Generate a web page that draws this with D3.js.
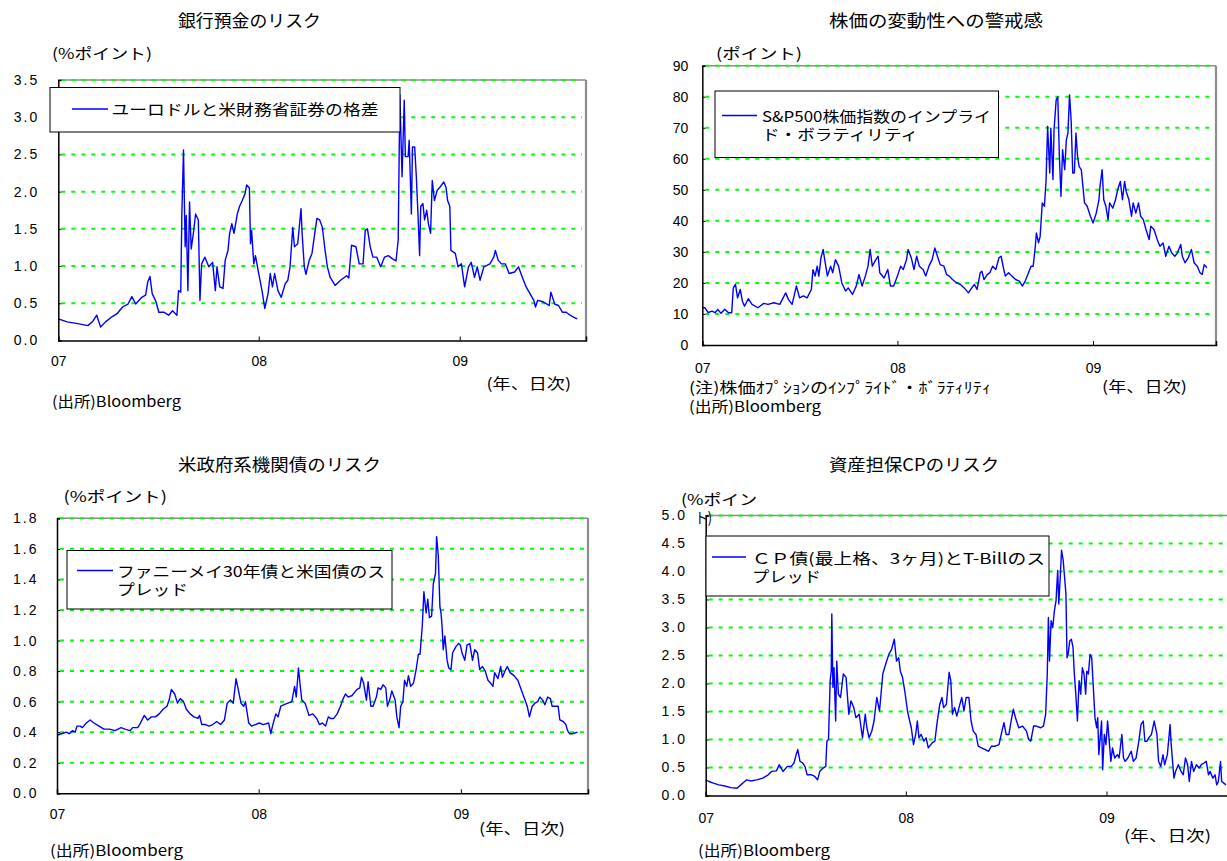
<!DOCTYPE html>
<html>
<head>
<meta charset="utf-8">
<script src="https://cdn.jsdelivr.net/npm/d3@7"></script>
<style>
  body { margin: 0; background: #fff; }
  text { font-family: "Noto Sans CJK JP", "Noto Sans", sans-serif; fill: #000; }
  .num { font-family: "Liberation Sans", Arial, sans-serif; }
</style>
</head>
<body>
<svg id="chart" width="1227" height="861"></svg>
<script>
// ---- data: daily spreads / volatility (date, value) ----
const euroDollarSpread = [
  ["2007-01-01",0.29],["2007-01-17",0.25],["2007-02-03",0.23],["2007-02-24",0.20],["2007-03-05",0.26],["2007-03-12",0.34],["2007-03-19",0.18],["2007-03-28",0.25],["2007-04-07",0.31],["2007-04-18",0.36],["2007-04-28",0.45],["2007-05-08",0.49],["2007-05-15",0.59],["2007-05-22",0.49],["2007-06-02",0.58],["2007-06-09",0.61],["2007-06-13",0.79],["2007-06-17",0.86],["2007-06-21",0.63],["2007-06-28",0.52],["2007-07-03",0.38],["2007-07-12",0.38],["2007-07-21",0.34],["2007-07-28",0.40],["2007-08-05",0.34],["2007-08-08",0.67],["2007-08-12",0.65],["2007-08-14",1.70],["2007-08-17",2.56],["2007-08-20",1.26],["2007-08-22",1.68],["2007-08-25",0.67],["2007-08-28",1.86],["2007-08-31",1.23],["2007-09-04",1.44],["2007-09-08",1.70],["2007-09-13",1.62],["2007-09-16",0.54],["2007-09-19",1.03],["2007-09-25",1.12],["2007-10-02",0.99],["2007-10-09",1.05],["2007-10-14",0.67],["2007-10-17",0.99],["2007-10-22",0.72],["2007-10-28",0.70],["2007-11-01",1.08],["2007-11-06",1.21],["2007-11-09",1.44],["2007-11-13",1.57],["2007-11-17",1.44],["2007-11-23",1.70],["2007-11-27",1.80],["2007-12-02",1.88],["2007-12-07",1.97],["2007-12-10",2.09],["2007-12-15",2.05],["2007-12-17",1.30],["2007-12-19",1.48],["2007-12-23",1.03],["2007-12-26",1.14],
  ["2008-01-01",0.90],["2008-01-07",0.67],["2008-01-12",0.43],["2008-01-18",0.63],["2008-01-22",0.90],["2008-01-26",0.72],["2008-01-30",0.90],["2008-02-05",0.67],["2008-02-11",0.58],["2008-02-18",0.76],["2008-02-23",0.81],["2008-02-27",0.99],["2008-03-03",1.52],["2008-03-06",1.26],["2008-03-12",1.30],["2008-03-18",1.77],["2008-03-20",1.44],["2008-03-24",0.99],["2008-03-27",0.89],["2008-04-02",1.08],["2008-04-07",1.17],["2008-04-12",1.44],["2008-04-16",1.64],["2008-04-21",1.62],["2008-04-26",1.52],["2008-04-30",1.26],["2008-05-05",0.99],["2008-05-10",0.85],["2008-05-19",0.74],["2008-05-29",0.81],["2008-06-09",0.87],["2008-06-13",0.84],["2008-06-18",1.28],["2008-06-26",1.26],["2008-07-02",1.03],["2008-07-09",1.03],["2008-07-13",1.48],["2008-07-17",1.50],["2008-07-22",1.26],["2008-07-27",1.12],["2008-08-03",1.12],["2008-08-10",0.99],["2008-08-17",1.12],["2008-08-24",1.14],["2008-08-31",1.10],["2008-09-07",1.07],["2008-09-11",1.35],["2008-09-14",3.30],["2008-09-18",2.20],["2008-09-22",3.23],["2008-09-24",2.47],["2008-09-29",2.47],["2008-10-01",2.69],["2008-10-05",1.70],["2008-10-07",2.60],["2008-10-11",2.60],["2008-10-14",2.20],["2008-10-17",1.70],["2008-10-20",1.14],["2008-10-22",1.80],["2008-10-26",1.84],["2008-10-29",1.62],["2008-11-02",1.75],["2008-11-05",1.57],["2008-11-09",1.44],["2008-11-12",2.15],["2008-11-16",1.88],["2008-11-21",2.02],["2008-11-26",2.06],["2008-12-03",2.13],["2008-12-07",2.06],["2008-12-10",1.88],["2008-12-14",1.80],["2008-12-16",1.21],["2008-12-24",1.17],["2008-12-29",0.99],
  ["2009-01-04",1.03],["2009-01-10",0.72],["2009-01-17",0.99],["2009-01-22",1.05],["2009-01-28",0.85],["2009-02-02",0.99],["2009-02-07",0.81],["2009-02-14",0.99],["2009-02-25",1.03],["2009-03-04",1.12],["2009-03-07",1.21],["2009-03-12",1.08],["2009-03-18",1.03],["2009-03-25",1.03],["2009-04-01",0.90],["2009-04-11",0.92],["2009-04-18",0.99],["2009-04-25",0.85],["2009-05-02",0.72],["2009-05-09",0.63],["2009-05-16",0.54],["2009-05-19",0.45],["2009-05-23",0.54],["2009-06-02",0.52],["2009-06-13",0.47],["2009-06-16",0.65],["2009-06-23",0.49],["2009-06-30",0.47],["2009-07-07",0.38],["2009-07-14",0.38],["2009-07-21",0.34],["2009-07-28",0.31],["2009-08-03",0.29]
];

const sp500ImpliedVol = [
  ["2007-01-01",12.0],["2007-01-06",12.0],["2007-01-12",10.4],["2007-01-19",10.9],["2007-01-25",10.4],["2007-01-30",11.5],["2007-02-05",10.2],["2007-02-12",11.5],["2007-02-19",10.4],["2007-02-25",10.4],["2007-02-28",18.4],["2007-03-04",19.5],["2007-03-08",15.2],["2007-03-13",17.9],["2007-03-17",14.1],["2007-03-21",12.5],["2007-03-28",14.9],["2007-04-04",13.1],["2007-04-15",12.0],["2007-04-26",13.4],["2007-05-04",13.1],["2007-05-15",13.6],["2007-05-26",13.1],["2007-06-06",16.8],["2007-06-11",14.7],["2007-06-18",13.1],["2007-06-26",19.0],["2007-07-02",15.2],["2007-07-09",15.8],["2007-07-16",15.2],["2007-07-24",17.9],["2007-07-27",24.3],["2007-07-31",22.2],["2007-08-04",25.4],["2007-08-07",22.2],["2007-08-11",28.1],["2007-08-15",30.8],["2007-08-18",27.5],["2007-08-23",22.2],["2007-08-29",25.4],["2007-09-02",23.3],["2007-09-07",27.5],["2007-09-13",25.4],["2007-09-19",20.0],["2007-09-26",17.4],["2007-10-01",18.4],["2007-10-09",16.3],["2007-10-16",19.0],["2007-10-21",22.7],["2007-10-27",19.0],["2007-11-02",22.2],["2007-11-07",25.4],["2007-11-11",30.8],["2007-11-15",25.4],["2007-11-20",27.0],["2007-11-26",28.6],["2007-11-29",23.3],["2007-12-07",21.6],["2007-12-14",24.3],["2007-12-19",19.0],["2007-12-25",19.0],
  ["2008-01-01",22.2],["2008-01-07",25.4],["2008-01-12",24.3],["2008-01-18",27.5],["2008-01-21",30.8],["2008-01-27",28.1],["2008-02-01",24.3],["2008-02-06",28.6],["2008-02-11",25.4],["2008-02-18",24.3],["2008-02-23",22.2],["2008-02-29",25.4],["2008-03-06",27.5],["2008-03-11",31.3],["2008-03-15",29.1],["2008-03-21",25.9],["2008-03-28",25.4],["2008-04-02",22.7],["2008-04-07",22.2],["2008-04-13",21.1],["2008-04-21",20.0],["2008-04-28",19.5],["2008-05-05",18.4],["2008-05-13",16.8],["2008-05-19",18.4],["2008-05-24",19.5],["2008-05-29",17.9],["2008-06-04",23.3],["2008-06-07",23.8],["2008-06-11",21.1],["2008-06-17",22.7],["2008-06-22",23.3],["2008-06-27",25.4],["2008-07-03",24.3],["2008-07-09",28.1],["2008-07-13",28.6],["2008-07-18",24.3],["2008-07-21",22.2],["2008-07-27",23.3],["2008-08-02",22.2],["2008-08-09",21.1],["2008-08-16",20.6],["2008-08-22",19.0],["2008-08-27",20.6],["2008-09-01",22.7],["2008-09-07",25.4],["2008-09-11",25.4],["2008-09-15",31.8],["2008-09-17",36.1],["2008-09-21",32.9],["2008-09-24",35.0],["2008-09-28",45.8],["2008-10-02",44.7],["2008-10-05",52.7],["2008-10-08",70.4],["2008-10-12",55.4],["2008-10-14",69.9],["2008-10-18",53.3],["2008-10-20",69.3],["2008-10-24",79.0],["2008-10-27",80.0],["2008-10-30",60.8],["2008-11-02",47.9],["2008-11-05",62.9],["2008-11-09",56.5],["2008-11-12",66.1],["2008-11-15",68.3],["2008-11-18",80.6],["2008-11-21",72.5],["2008-11-24",55.4],["2008-11-27",55.4],["2008-11-30",68.3],["2008-12-03",60.8],["2008-12-06",57.5],["2008-12-10",56.5],["2008-12-16",45.8],["2008-12-21",44.7],["2008-12-27",41.5],
  ["2009-01-01",39.3],["2009-01-07",42.5],["2009-01-12",46.8],["2009-01-14",51.1],["2009-01-18",56.5],["2009-01-21",46.8],["2009-01-25",44.7],["2009-01-29",40.4],["2009-02-01",45.8],["2009-02-07",44.1],["2009-02-12",46.8],["2009-02-16",50.0],["2009-02-21",52.7],["2009-02-25",46.8],["2009-03-01",52.7],["2009-03-04",49.5],["2009-03-09",46.8],["2009-03-14",41.5],["2009-03-17",45.8],["2009-03-22",42.5],["2009-03-27",45.8],["2009-03-31",41.5],["2009-04-05",40.4],["2009-04-10",37.2],["2009-04-16",34.0],["2009-04-19",38.3],["2009-04-25",37.2],["2009-05-01",34.0],["2009-05-06",31.8],["2009-05-12",32.9],["2009-05-17",28.6],["2009-05-23",31.8],["2009-05-28",29.7],["2009-06-03",28.6],["2009-06-08",29.7],["2009-06-14",32.4],["2009-06-17",28.6],["2009-06-22",26.5],["2009-06-28",28.1],["2009-07-04",30.8],["2009-07-09",26.5],["2009-07-15",25.4],["2009-07-20",23.3],["2009-07-24",22.7],["2009-07-28",25.9],["2009-08-02",24.9]
];

const fannieMaeSpread = [
  ["2007-01-01",0.38],["2007-01-09",0.39],["2007-01-18",0.40],["2007-01-23",0.39],["2007-01-29",0.41],["2007-02-03",0.40],["2007-02-06",0.44],["2007-02-12",0.44],["2007-02-16",0.43],["2007-02-23",0.46],["2007-03-02",0.48],["2007-03-09",0.46],["2007-03-18",0.44],["2007-03-27",0.42],["2007-04-06",0.42],["2007-04-16",0.41],["2007-04-27",0.43],["2007-05-04",0.42],["2007-05-13",0.41],["2007-05-18",0.43],["2007-05-27",0.43],["2007-06-01",0.46],["2007-06-08",0.51],["2007-06-14",0.48],["2007-06-21",0.50],["2007-06-28",0.50],["2007-07-05",0.52],["2007-07-12",0.55],["2007-07-19",0.57],["2007-07-23",0.61],["2007-07-27",0.68],["2007-08-02",0.65],["2007-08-07",0.59],["2007-08-12",0.62],["2007-08-18",0.60],["2007-08-23",0.55],["2007-08-30",0.52],["2007-09-06",0.50],["2007-09-13",0.49],["2007-09-16",0.51],["2007-09-20",0.45],["2007-09-27",0.45],["2007-10-03",0.44],["2007-10-10",0.45],["2007-10-17",0.47],["2007-10-24",0.45],["2007-10-31",0.48],["2007-11-05",0.59],["2007-11-11",0.61],["2007-11-16",0.59],["2007-11-21",0.75],["2007-11-25",0.68],["2007-11-30",0.59],["2007-12-05",0.57],["2007-12-08",0.60],["2007-12-14",0.46],["2007-12-19",0.44],["2007-12-26",0.45],
  ["2008-01-02",0.46],["2008-01-09",0.45],["2008-01-19",0.46],["2008-01-23",0.39],["2008-01-26",0.44],["2008-02-01",0.52],["2008-02-05",0.50],["2008-02-10",0.57],["2008-02-16",0.58],["2008-02-23",0.59],["2008-03-01",0.60],["2008-03-06",0.70],["2008-03-09",0.63],["2008-03-13",0.82],["2008-03-16",0.71],["2008-03-19",0.61],["2008-03-25",0.59],["2008-04-01",0.51],["2008-04-08",0.52],["2008-04-15",0.49],["2008-04-20",0.45],["2008-04-25",0.46],["2008-05-01",0.44],["2008-05-06",0.50],["2008-05-10",0.49],["2008-05-16",0.49],["2008-05-22",0.52],["2008-05-28",0.57],["2008-06-02",0.62],["2008-06-06",0.65],["2008-06-11",0.63],["2008-06-18",0.64],["2008-06-27",0.68],["2008-07-02",0.69],["2008-07-05",0.76],["2008-07-09",0.72],["2008-07-14",0.61],["2008-07-17",0.73],["2008-07-22",0.57],["2008-07-26",0.57],["2008-08-01",0.63],["2008-08-04",0.69],["2008-08-09",0.68],["2008-08-13",0.71],["2008-08-18",0.69],["2008-08-21",0.57],["2008-08-25",0.61],["2008-08-29",0.67],["2008-09-04",0.61],["2008-09-07",0.50],["2008-09-11",0.43],["2008-09-14",0.57],["2008-09-18",0.60],["2008-09-21",0.74],["2008-09-25",0.70],["2008-09-28",0.77],["2008-10-02",0.70],["2008-10-07",0.72],["2008-10-12",0.81],["2008-10-16",0.91],["2008-10-19",0.91],["2008-10-23",1.09],["2008-10-26",1.32],["2008-10-30",1.18],["2008-11-02",1.27],["2008-11-05",1.15],["2008-11-09",1.16],["2008-11-12",1.37],["2008-11-16",1.44],["2008-11-18",1.68],["2008-11-21",1.56],["2008-11-24",1.22],["2008-11-26",1.18],["2008-11-28",1.09],["2008-11-30",0.94],["2008-12-03",1.03],["2008-12-07",0.87],["2008-12-10",0.82],["2008-12-14",0.81],["2008-12-17",0.92],["2008-12-23",0.96],["2008-12-28",0.98],["2008-12-31",0.97],
  ["2009-01-03",0.92],["2009-01-08",0.87],["2009-01-12",0.97],["2009-01-17",0.98],["2009-01-22",0.87],["2009-01-26",0.94],["2009-01-31",0.92],["2009-02-04",0.81],["2009-02-09",0.83],["2009-02-14",0.80],["2009-02-19",0.74],["2009-02-24",0.72],["2009-02-28",0.70],["2009-03-03",0.79],["2009-03-09",0.75],["2009-03-14",0.83],["2009-03-17",0.76],["2009-03-23",0.81],["2009-03-26",0.83],["2009-03-31",0.79],["2009-04-07",0.77],["2009-04-14",0.74],["2009-04-20",0.68],["2009-04-27",0.61],["2009-05-01",0.57],["2009-05-05",0.50],["2009-05-10",0.57],["2009-05-15",0.59],["2009-05-20",0.60],["2009-05-24",0.63],["2009-05-29",0.61],["2009-06-02",0.58],["2009-06-07",0.63],["2009-06-12",0.62],["2009-06-15",0.57],["2009-06-21",0.57],["2009-06-26",0.57],["2009-06-29",0.48],["2009-07-05",0.47],["2009-07-10",0.45],["2009-07-13",0.41],["2009-07-17",0.39],["2009-07-22",0.39],["2009-07-31",0.40]
];

const abcpSpread = [
  ["2007-01-01",0.28],["2007-01-07",0.25],["2007-01-15",0.22],["2007-01-25",0.19],["2007-02-05",0.17],["2007-02-16",0.14],["2007-02-27",0.13],["2007-03-06",0.19],["2007-03-13",0.25],["2007-03-17",0.28],["2007-03-24",0.26],["2007-04-04",0.28],["2007-04-15",0.31],["2007-04-25",0.37],["2007-05-01",0.43],["2007-05-10",0.44],["2007-05-15",0.55],["2007-05-22",0.43],["2007-05-30",0.52],["2007-06-06",0.52],["2007-06-11",0.58],["2007-06-15",0.73],["2007-06-18",0.82],["2007-06-22",0.61],["2007-06-27",0.58],["2007-07-01",0.52],["2007-07-05",0.37],["2007-07-13",0.37],["2007-07-19",0.34],["2007-07-24",0.28],["2007-07-28",0.43],["2007-08-03",0.49],["2007-08-08",0.52],["2007-08-10",0.97],["2007-08-13",1.00],["2007-08-16",2.05],["2007-08-18",2.22],["2007-08-19",3.24],["2007-08-21",1.93],["2007-08-23",2.28],["2007-08-26",1.33],["2007-08-28",2.40],["2007-08-31",1.81],["2007-09-04",1.75],["2007-09-09",2.17],["2007-09-14",2.11],["2007-09-19",1.45],["2007-09-23",1.69],["2007-09-28",1.57],["2007-10-02",1.39],["2007-10-08",1.45],["2007-10-14",1.03],["2007-10-19",1.45],["2007-10-22",1.21],["2007-10-26",1.03],["2007-10-31",1.15],["2007-11-04",1.33],["2007-11-09",1.75],["2007-11-14",1.51],["2007-11-20",2.17],["2007-11-25",2.34],["2007-12-01",2.52],["2007-12-06",2.61],["2007-12-11",2.79],["2007-12-15",2.40],["2007-12-19",2.46],["2007-12-22",2.22],["2007-12-26",2.11],["2007-12-30",1.87],
  ["2008-01-04",1.51],["2008-01-08",1.33],["2008-01-11",1.21],["2008-01-15",0.91],["2008-01-19",1.09],["2008-01-22",1.33],["2008-01-25",1.03],["2008-01-29",1.09],["2008-02-03",0.97],["2008-02-07",1.03],["2008-02-11",0.85],["2008-02-18",0.94],["2008-02-23",0.97],["2008-02-27",1.30],["2008-03-03",1.63],["2008-03-07",1.75],["2008-03-10",1.57],["2008-03-15",1.63],["2008-03-20",2.20],["2008-03-23",2.05],["2008-03-26",1.45],["2008-03-30",1.57],["2008-04-03",1.42],["2008-04-07",1.57],["2008-04-12",1.75],["2008-04-16",1.51],["2008-04-20",1.75],["2008-04-25",1.75],["2008-04-29",1.33],["2008-05-03",1.15],["2008-05-08",1.09],["2008-05-12",0.88],["2008-05-18",0.85],["2008-05-25",0.82],["2008-05-31",0.79],["2008-06-05",0.88],["2008-06-12",0.88],["2008-06-19",0.91],["2008-06-23",1.09],["2008-06-28",1.30],["2008-07-02",1.09],["2008-07-07",1.09],["2008-07-11",1.33],["2008-07-15",1.54],["2008-07-19",1.39],["2008-07-25",1.21],["2008-08-01",1.24],["2008-08-08",1.15],["2008-08-12",1.00],["2008-08-16",0.97],["2008-08-21",1.24],["2008-08-26",1.24],["2008-09-03",1.21],["2008-09-08",1.24],["2008-09-12",1.45],["2008-09-15",2.17],["2008-09-17",3.18],["2008-09-19",2.40],["2008-09-22",3.12],["2008-09-25",3.00],["2008-09-28",3.30],["2008-10-01",3.48],["2008-10-04",4.02],["2008-10-06",3.42],["2008-10-09",3.96],["2008-10-11",4.38],["2008-10-14",4.20],["2008-10-16",3.96],["2008-10-19",3.60],["2008-10-21",2.46],["2008-10-23",2.52],["2008-10-26",2.76],["2008-10-29",2.79],["2008-11-01",2.64],["2008-11-03",2.22],["2008-11-06",1.81],["2008-11-09",1.33],["2008-11-12",2.05],["2008-11-15",1.81],["2008-11-18",2.28],["2008-11-21",2.17],["2008-11-24",1.81],["2008-11-26",2.22],["2008-11-29",2.17],["2008-12-02",2.52],["2008-12-05",2.46],["2008-12-08",1.93],["2008-12-11",1.39],["2008-12-14",1.21],["2008-12-16",1.39],["2008-12-18",0.73],["2008-12-20",0.97],["2008-12-23",1.33],["2008-12-25",0.46],["2008-12-28",1.09],["2008-12-31",0.91],
  ["2009-01-03",1.33],["2009-01-06",0.97],["2009-01-09",0.61],["2009-01-12",0.85],["2009-01-16",0.67],["2009-01-21",0.73],["2009-01-24",0.67],["2009-01-29",1.09],["2009-02-01",0.67],["2009-02-04",0.61],["2009-02-09",0.67],["2009-02-15",0.79],["2009-02-19",0.61],["2009-02-24",0.67],["2009-03-01",0.97],["2009-03-05",1.27],["2009-03-09",1.33],["2009-03-12",0.97],["2009-03-16",0.97],["2009-03-19",1.03],["2009-03-24",1.09],["2009-03-29",1.33],["2009-04-03",1.09],["2009-04-06",0.61],["2009-04-10",0.52],["2009-04-14",0.73],["2009-04-17",0.55],["2009-04-22",0.73],["2009-04-27",1.27],["2009-04-29",0.91],["2009-05-04",0.31],["2009-05-07",0.43],["2009-05-12",0.55],["2009-05-17",0.43],["2009-05-21",0.37],["2009-05-25",0.67],["2009-05-29",0.55],["2009-06-01",0.25],["2009-06-05",0.61],["2009-06-09",0.43],["2009-06-14",0.55],["2009-06-19",0.49],["2009-06-23",0.55],["2009-06-28",0.58],["2009-07-02",0.61],["2009-07-06",0.37],["2009-07-09",0.43],["2009-07-14",0.31],["2009-07-18",0.37],["2009-07-21",0.19],["2009-07-24",0.25],["2009-07-28",0.61],["2009-07-30",0.25],["2009-08-03",0.22],["2009-08-07",0.19]
];

// ---- axis ticks and labels ----
const yearTickDates = ["2007-01-01", "2008-01-01", "2009-01-01"];
const yearTickLabels = ["07", "08", "09"];
const depositTicks = [0, 0.5, 1.0, 1.5, 2.0, 2.5, 3.0, 3.5];
const volTicks = [0, 10, 20, 30, 40, 50, 60, 70, 80, 90];
const agencyTicks = [0, 0.2, 0.4, 0.6, 0.8, 1.0, 1.2, 1.4, 1.6, 1.8];
const abcpTicks = [0, 0.5, 1.0, 1.5, 2.0, 2.5, 3.0, 3.5, 4.0, 4.5, 5.0];
const dateRange = ["2007-01-01", "2009-08-19"];

const parse = d3.timeParse("%Y-%m-%d");
const svg = d3.select("#chart");
svg.append("rect").attr("width", 1227).attr("height", 861).attr("fill", "#fff");

function addText(g, s, x, y, opt = {}) {
  const t = g.append("text").attr("x", x).attr("y", y).text(s)
    .attr("font-size", opt.size || 15)
    .attr("text-anchor", opt.anchor || "start");
  if (opt.cls) t.attr("class", opt.cls);
  if (opt.width) t.attr("textLength", opt.width).attr("lengthAdjust", "spacingAndGlyphs");
  return t;
}

function drawPanel(p) {
  const g = svg.append("g");
  const series = p.data.map(([d, v]) => ({ date: parse(d), value: v }))
    .sort((a, b) => a.date - b.date);
  const x = d3.scaleTime().domain(dateRange.map(parse)).range([p.left, p.right]);
  const y = d3.scaleLinear().domain([0, d3.max(p.ticks)]).range([p.bottom, p.top]);

  // grey frame on top and right
  g.append("line").attr("x1", p.left).attr("x2", p.right).attr("y1", p.top).attr("y2", p.top)
    .attr("stroke", "#8c8c8c").attr("stroke-width", 1.6);
  g.append("line").attr("x1", p.right).attr("x2", p.right).attr("y1", p.top).attr("y2", p.bottom)
    .attr("stroke", "#8c8c8c").attr("stroke-width", 2.2);

  // green dotted gridlines
  g.selectAll("line.grid").data(p.ticks.filter(t => t > 0)).join("line")
    .attr("class", "grid")
    .attr("x1", p.left + 3).attr("x2", p.right - 4)
    .attr("y1", d => y(d)).attr("y2", d => y(d))
    .attr("stroke", "#00ff00").attr("stroke-width", 2).attr("stroke-dasharray", "4,6");

  // series line
  g.append("path").datum(series)
    .attr("fill", "none").attr("stroke", "#0000ff").attr("stroke-width", 1.4)
    .attr("stroke-linejoin", "round")
    .attr("d", d3.line().x(d => x(d.date)).y(d => y(d.value)));

  // y axis
  const ya = g.append("g").attr("transform", `translate(${p.left},0)`)
    .call(d3.axisLeft(y).tickValues(p.ticks).tickSize(-3).tickPadding(p.yPad).tickFormat(p.fmt));
  ya.select(".domain").attr("stroke", "#000").attr("stroke-width", 1.5);
  ya.selectAll(".tick line").attr("stroke", "#000");
  ya.selectAll(".tick text").attr("class", "num").attr("font-size", 14)
    .attr("letter-spacing", p.spacing).attr("fill", "#000");

  // x axis
  const xa = g.append("g").attr("transform", `translate(0,${p.bottom})`)
    .call(d3.axisBottom(x).tickValues(yearTickDates.map(parse)).tickSize(-4)
      .tickPadding(p.xPad).tickFormat((d, i) => yearTickLabels[i]));
  xa.select(".domain").attr("stroke", "#000").attr("stroke-width", 1.5);
  xa.selectAll(".tick line").attr("stroke", "#000");
  xa.selectAll(".tick text").attr("class", "num").attr("font-size", 14).attr("fill", "#000");

  // legend
  const L = p.legend;
  g.append("rect").attr("x", L.x).attr("y", L.y).attr("width", L.w).attr("height", L.h)
    .attr("fill", "#fff").attr("stroke", "#000").attr("stroke-width", 1);
  g.append("line").attr("x1", L.lx1).attr("x2", L.lx2).attr("y1", L.ly).attr("y2", L.ly)
    .attr("stroke", "#0000ff").attr("stroke-width", 1.5);
  L.lines.forEach(s => addText(g, s.t, L.tx, s.y, { size: 15, width: s.w }));

  // titles and notes
  p.texts.forEach(t => addText(g, t.t, t.x, t.y, t));
}

const fmt1 = d3.format(".1f");

drawPanel({
  data: euroDollarSpread, ticks: depositTicks, fmt: fmt1, spacing: 2,
  left: 58.3, right: 586, top: 80, bottom: 340.5, yPad: 19, xPad: 16,
  legend: { x: 50, y: 87.5, w: 350, h: 44.5, lx1: 72, lx2: 108, ly: 109, tx: 111.5,
    lines: [{ t: "ユーロドルと米財務省証券の格差", y: 115, w: 267 }] },
  texts: [
    { t: "銀行預金のリスク", x: 178, y: 27, size: 17, width: 143 },
    { t: "(%ポイント)", x: 52, y: 59, size: 15, width: 100 },
    { t: "(年、日次)", x: 486.5, y: 389, size: 15, width: 84.5 },
    { t: "(出所)Bloomberg", x: 52, y: 407, size: 15, width: 129 }
  ]
});

drawPanel({
  data: sp500ImpliedVol, ticks: volTicks, fmt: d3.format("d"), spacing: 0,
  left: 702.3, right: 1216, top: 65.7, bottom: 345, yPad: 14, xPad: 18.4,
  legend: { x: 715, y: 91, w: 283.5, h: 66.5, lx1: 722, lx2: 757, ly: 115.6, tx: 762,
    lines: [{ t: "S&P500株価指数のインプライ", y: 122, w: 229 },
            { t: "ド・ボラティリティ", y: 140, w: 156 }] },
  texts: [
    { t: "株価の変動性への警戒感", x: 829, y: 27, size: 17, width: 214 },
    { t: "(ポイント)", x: 716, y: 59, size: 15, width: 86 },
    { t: "(年、日次)", x: 1102, y: 392, size: 15, width: 85 },
    { t: "(注)株価ｵﾌﾟｼｮﾝのｲﾝﾌﾟﾗｲﾄﾞ・ﾎﾞﾗﾃｨﾘﾃｨ", x: 689, y: 393, size: 15, width: 302 },
    { t: "(出所)Bloomberg", x: 689, y: 411.5, size: 15, width: 132 }
  ]
});

drawPanel({
  data: fannieMaeSpread, ticks: agencyTicks, fmt: fmt1, spacing: 2,
  left: 57, right: 588, top: 518.3, bottom: 793.3, yPad: 18.5, xPad: 15.8,
  legend: { x: 67, y: 550.5, w: 325, h: 58.5, lx1: 77, lx2: 113, ly: 570.5, tx: 117,
    lines: [{ t: "ファニーメイ30年債と米国債のス", y: 577, w: 268 },
            { t: "プレッド", y: 594.5, w: 71 }] },
  texts: [
    { t: "米政府系機関債のリスク", x: 178, y: 471, size: 17, width: 203 },
    { t: "(%ポイント)", x: 63.5, y: 502, size: 15, width: 103.5 },
    { t: "(年、日次)", x: 479, y: 834, size: 15, width: 86 },
    { t: "(出所)Bloomberg", x: 50, y: 856, size: 15, width: 133 }
  ]
});

drawPanel({
  data: abcpSpread, ticks: abcpTicks, fmt: fmt1, spacing: 2,
  left: 705.7, right: 1232.6, top: 515.5, bottom: 795.5, yPad: 18.7, xPad: 17.6,
  legend: { x: 706, y: 536, w: 343, h: 60, lx1: 712, lx2: 746, ly: 557, tx: 752,
    lines: [{ t: "ＣＰ債(最上格、3ヶ月)とT-Billのス", y: 564, w: 293 },
            { t: "プレッド", y: 582, w: 69 }] },
  texts: [
    { t: "資産担保CPのリスク", x: 829, y: 471, size: 17, width: 170 },
    { t: "(%ポイン", x: 681, y: 505, size: 15, width: 76 },
    { t: "ト)", x: 695, y: 523, size: 15, width: 17 },
    { t: "(年、日次)", x: 1124, y: 841, size: 15, width: 87 },
    { t: "(出所)Bloomberg", x: 698, y: 856, size: 15, width: 132 }
  ]
});
</script>
</body>
</html>
